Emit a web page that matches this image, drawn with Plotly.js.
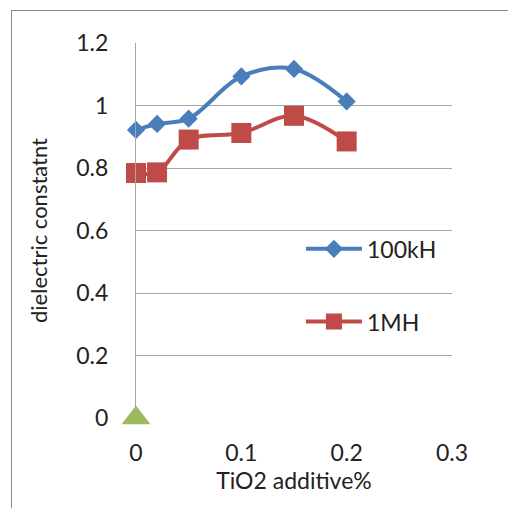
<!DOCTYPE html>
<html>
<head>
<meta charset="utf-8">
<script src="https://cdn.plot.ly/plotly-3.0.1.min.js"></script>
<style>
html,body{margin:0;padding:0;background:#fff;}
#wrap{position:relative;width:508px;height:508px;overflow:hidden;}
#frame{position:absolute;left:11px;top:10px;width:600px;height:600px;border-left:1px solid #8c8c8c;border-top:1px solid #8c8c8c;pointer-events:none;}
#chart{position:absolute;left:0;top:0;width:508px;height:508px;}
</style>
</head>
<body>
<div id="wrap"><div id="chart"></div><div id="frame"></div></div>
<script>
const tio2 = [0, 0.02, 0.05, 0.1, 0.15, 0.2];
const eps100kH = [0.922, 0.941, 0.958, 1.093, 1.117, 1.013];
const eps1MH = [0.784, 0.786, 0.891, 0.912, 0.967, 0.885];
const extraX = [0];
const extraY = [0];
const xTicks = [0, 0.1, 0.2, 0.3];
const yTicks = [0, 0.2, 0.4, 0.6, 0.8, 1, 1.2];

const FONT = 'Lato, "Open Sans", sans-serif';
const TXT = '#222';

const traces = [
  {x: tio2, y: eps100kH, name: '100kH', mode: 'lines+markers', cliponaxis: false,
   line: {color: '#4A7EBB', width: 4, shape: 'spline', smoothing: 1},
   marker: {symbol: 'diamond', size: 14, color: '#4A7EBB'}, legend: 'legend'},
  {x: tio2, y: eps1MH, name: '1MH', mode: 'lines+markers', cliponaxis: false,
   line: {color: '#BE4B48', width: 4, shape: 'spline', smoothing: 1},
   marker: {symbol: 'square', size: 20, color: '#BE4B48'}, legend: 'legend2'},
  {x: extraX, y: extraY, name: '', mode: 'markers', cliponaxis: false, showlegend: false,
   marker: {symbol: 'triangle-up', size: 25, color: '#9BBB59'}}
];

const layout = {
  width: 508, height: 508,
  margin: {l: 136, r: 56, t: 43, b: 90, pad: 0},
  paper_bgcolor: '#fff', plot_bgcolor: '#fff',
  font: {family: FONT, size: 22, color: TXT},
  showlegend: true,
  xaxis: {range: [0, 0.3], tickvals: xTicks, ticktext: xTicks.map(String),
    showgrid: false, zeroline: false, showline: false, ticks: '',
    ticklabelstandoff: 19, tickfont: {family: FONT, size: 23, color: TXT},
    title: {text: 'TiO2 additive%', font: {family: FONT, size: 23, color: TXT}, standoff: 0}},
  yaxis: {range: [0, 1.2], tickvals: yTicks, ticktext: yTicks.map(String),
    showgrid: true, gridcolor: '#A6A6A6', gridwidth: 1, zeroline: false,
    showline: true, linecolor: '#A6A6A6', linewidth: 1, ticks: '',
    ticklabelstandoff: 22, tickfont: {family: FONT, size: 23, color: TXT},
    title: {text: 'dielectric constatnt', font: {family: FONT, size: 22, color: TXT}, standoff: 22}},
  legend: {x: 0.522, y: 0.451, xanchor: 'left', yanchor: 'middle', bgcolor: 'rgba(0,0,0,0)',
    itemwidth: 56, font: {family: FONT, size: 23, color: TXT}},
  legend2: {x: 0.522, y: 0.257, xanchor: 'left', yanchor: 'middle', bgcolor: 'rgba(0,0,0,0)',
    itemwidth: 56, font: {family: FONT, size: 23, color: TXT}}
};

Plotly.newPlot('chart', traces, layout, {displayModeBar: false, staticPlot: true});
</script>
</body>
</html>
